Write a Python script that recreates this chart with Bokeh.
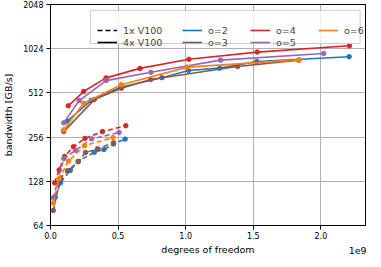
from bokeh.plotting import figure
from bokeh.models import (FixedTicker, PrintfTickFormatter, CustomJSTickFormatter, Legend,
                          LegendItem, Range1d, LinearAxis)
from bokeh.embed import file_html
from bokeh.resources import INLINE

# degrees of freedom in units of 1e9, bandwidth in GB/s
order_labels = ["o=2", "o=3", "o=4", "o=5", "o=6"]
order_colors = ["#1f77b4", "#8c564b", "#d62728", "#9467bd", "#ff7f0e"]

# 4x V100 (solid)
x4_o2 = [0.125, 0.30, 0.52, 0.824, 1.021, 1.252, 1.526, 2.209]
y4_o2 = [329, 455, 560, 650, 727, 755, 837, 903]
x4_o3 = [0.098, 0.324, 0.524, 0.741, 1.384, 1.836]
y4_o3 = [279, 461, 551, 632, 775, 856]
x4_o4 = [0.131, 0.245, 0.411, 0.662, 1.024, 1.529, 2.211]
y4_o4 = [418, 523, 648, 752, 867, 971, 1072]
x4_o5 = [0.098, 0.212, 0.411, 0.743, 1.257, 2.021]
y4_o5 = [320, 454, 621, 707, 856, 949]
x4_o6 = [0.098, 0.245, 0.524, 1.014, 1.841]
y4_o6 = [287, 435, 582, 767, 860]

# 1x V100 (dashed)
x1_o2 = [0.035, 0.074, 0.146, 0.205, 0.324, 0.395, 0.466, 0.552]
y1_o2 = [100, 125, 152, 175, 202, 211, 230, 248]
x1_o3 = [0.021, 0.074, 0.126, 0.205, 0.259, 0.348, 0.466]
y1_o3 = [81, 135, 151, 174, 201, 213, 234]
x1_o4 = [0.031, 0.064, 0.105, 0.169, 0.255, 0.384, 0.557]
y1_o4 = [125, 153, 189, 220, 251, 279, 306]
x1_o5 = [0.021, 0.098, 0.186, 0.305, 0.507]
y1_o5 = [99, 183, 208, 249, 275]
x1_o6 = [0.021, 0.062, 0.134, 0.252, 0.462]
y1_o6 = [91, 133, 176, 224, 254]

x_ticks = [0.0, 0.5, 1.0, 1.5, 2.0]
y_ticks = [64, 128, 256, 512, 1024, 2048]
x_scale_text = "1e9"

solid = [(x4_o2, y4_o2), (x4_o3, y4_o3), (x4_o4, y4_o4), (x4_o5, y4_o5), (x4_o6, y4_o6)]
dashed = [(x1_o2, y1_o2), (x1_o3, y1_o3), (x1_o4, y1_o4), (x1_o5, y1_o5), (x1_o6, y1_o6)]

FONT = "DejaVu Sans"
DASH = "5 3"
X_MAX = 2.33
# legend frame extent (layout only), in plot-area coordinates
LEG_LEFT, LEG_RIGHT, LEG_BOTTOM, LEG_TOP = 0.295, 2.29, 1110, 1870

p = figure(width=373, height=259, output_backend="svg", toolbar_location=None,
           y_axis_type="log", x_range=Range1d(0, X_MAX), y_range=Range1d(64, 2048),
           min_border_top=4, min_border_right=8, min_border_left=42, min_border_bottom=34)
p.background_fill_color = "white"
p.border_fill_color = "white"
p.outline_line_color = "black"
p.outline_line_width = 1

for ax in (p.xaxis[0], p.yaxis[0]):
    ax.major_label_text_font = FONT
    ax.major_label_text_font_size = "8px"
    ax.major_label_text_color = "black"
    ax.axis_label_text_font = FONT
    ax.axis_label_text_font_size = "9.5px"
    ax.axis_label_text_font_style = "normal"
    ax.axis_label_text_color = "black"
    ax.minor_tick_line_color = None
    ax.major_tick_out = 4
    ax.major_tick_in = 0
    ax.axis_line_color = "black"
    ax.major_tick_line_color = "black"

p.xaxis.ticker = FixedTicker(ticks=x_ticks)
p.xaxis.formatter = PrintfTickFormatter(format="%.1f")
p.yaxis.ticker = FixedTicker(ticks=y_ticks)
p.yaxis.formatter = PrintfTickFormatter(format="%d")
p.xaxis.axis_label = "degrees of freedom"
p.yaxis.axis_label = "bandwidth [GB/s]"
p.xaxis.axis_label_standoff = 2
p.yaxis.axis_label_standoff = 6
p.xaxis.major_label_standoff = 2
p.yaxis.major_label_standoff = 3

# offset text "1e9" at the right end, drawn as a tick label of a bare helper axis
scale_axis = LinearAxis(ticker=FixedTicker(ticks=[X_MAX * 0.975]),
                        formatter=CustomJSTickFormatter(code="return '%s';" % x_scale_text),
                        axis_line_color=None, major_tick_line_color=None,
                        minor_tick_line_color=None, major_tick_out=0, major_tick_in=0,
                        major_label_standoff=-11,
                        major_label_text_font=FONT, major_label_text_font_size="9.5px",
                        major_label_text_color="black")
p.add_layout(scale_axis, "below")

p.grid.grid_line_color = "#b0b0b0"
p.grid.grid_line_width = 1

order_renderers = []
for (xs, ys), (xd, yd), col in zip(solid, dashed, order_colors):
    r = p.line(xs, ys, line_color=col, line_width=1.6)
    p.scatter(xs, ys, size=4.5, fill_color=col, line_color=col)
    p.line(xd, yd, line_color=col, line_width=1.6, line_dash=DASH)
    p.scatter(xd, yd, size=4.5, fill_color=col, line_color=col)
    order_renderers.append(r)

# legend frame
p.quad(left=[LEG_LEFT], right=[LEG_RIGHT], bottom=[LEG_BOTTOM], top=[LEG_TOP],
       fill_color="white", fill_alpha=0.8, line_color="#cccccc", line_width=1)

# proxy renderers (outside the visible range) for the legend's line-style entries
dash_leg = p.line([-1.0, -0.9], [100, 100], line_color="black", line_width=1.6, line_dash=DASH)
solid_leg = p.line([-1.0, -0.9], [100, 100], line_color="black", line_width=1.6)

common = dict(orientation="vertical", nrows=2,
              label_text_font=FONT, label_text_font_size="9.5px",
              glyph_width=20, glyph_height=12, label_standoff=6,
              spacing=0, padding=2, margin=0, label_height=12,
              border_line_color=None, background_fill_alpha=0.0)

legend_a = Legend(items=[LegendItem(label="1x V100", renderers=[dash_leg]),
                         LegendItem(label="4x V100", renderers=[solid_leg])],
                  location=(47, 177), **common)
legend_b = Legend(items=[LegendItem(label=lab, renderers=[r])
                         for lab, r in zip(order_labels, order_renderers)],
                  location=(132, 177), label_width=42, **common)
p.add_layout(legend_a, "center")
p.add_layout(legend_b, "center")

open("out.html", "w").write(file_html(p, INLINE))
